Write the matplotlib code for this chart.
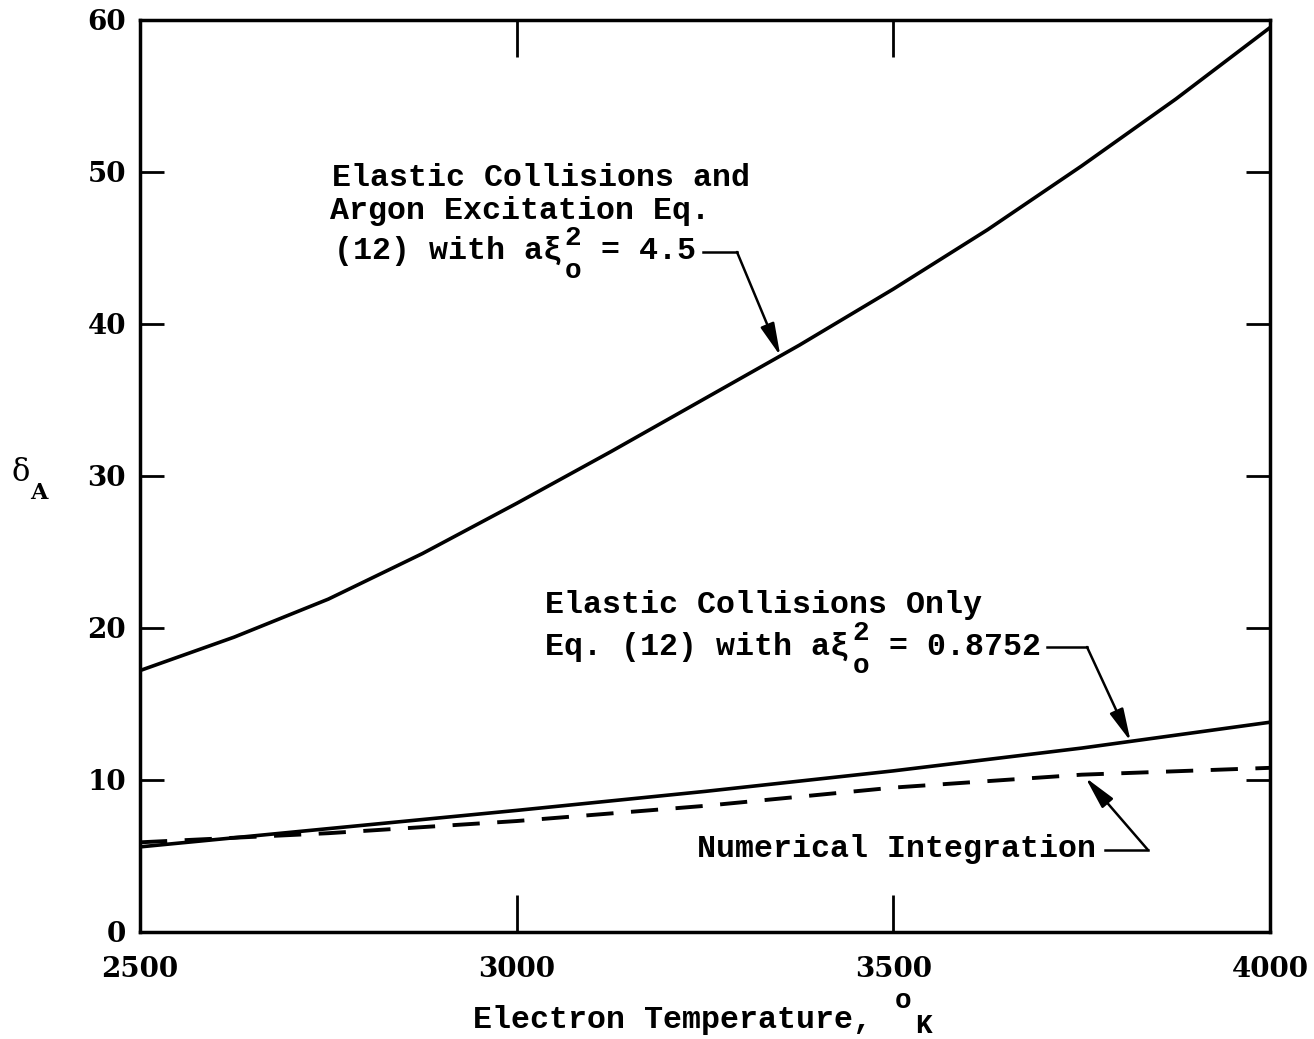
import numpy as np
import matplotlib
matplotlib.use("Agg")
import matplotlib.pyplot as plt
from matplotlib.lines import Line2D

# Electron temperature (K) and energy-loss factor delta_A
temp_upper = [2500, 2625, 2750, 2875, 3000, 3125, 3250, 3375, 3500, 3625, 3750, 3875, 4000]
delta_excitation = [17.2, 19.4, 21.9, 24.9, 28.2, 31.6, 35.1, 38.6, 42.3, 46.2, 50.4, 54.8, 59.5]

temp_lower = [2500, 2750, 3000, 3250, 3500, 3750, 4000]
delta_elastic = [5.6, 6.8, 8.0, 9.25, 10.6, 12.1, 13.8]
delta_numerical = [5.9, 6.5, 7.3, 8.3, 9.5, 10.35, 10.8]

x_ticks = [2500, 3000, 3500, 4000]
y_ticks = [0, 10, 20, 30, 40, 50, 60]

W, H = 1314, 1039
fig = plt.figure(figsize=(W / 100, H / 100), dpi=100)
ax = fig.add_axes([140 / W, 1 - 932 / H, 1130 / W, 912 / H])


def fp(x, y):
    """Pixel position -> figure fraction."""
    return (x / W, 1 - y / H)


MONO = dict(family=['Liberation Mono', 'DejaVu Sans Mono'], weight='bold',
            size=22.8, color='black')
SMALL = dict(MONO, size=20)
TICKFONT = dict(family=['DejaVu Serif'], weight='bold', size=20)

ax.plot(temp_upper, delta_excitation, color='black', lw=2.6)
ax.plot(temp_lower, delta_elastic, color='black', lw=2.6)
ax.plot(temp_lower, delta_numerical, color='black', lw=2.8, dashes=(7.0, 4.5))

ax.set_xlim(2500, 4000)
ax.set_ylim(0, 60)
ax.set_xticks(x_ticks)
ax.set_yticks(y_ticks)
ax.set_xticklabels([str(v) for v in x_ticks], fontdict=TICKFONT)
ax.set_yticklabels([str(v) for v in y_ticks], fontdict=TICKFONT)
ax.tick_params(axis='x', direction='in', length=26.5, width=2, top=True,
               labeltop=False, pad=17)
ax.tick_params(axis='y', direction='in', length=17, width=2, right=True,
               labelright=False, pad=10)
for s in ax.spines.values():
    s.set_linewidth(2.5)

# Axis titles
fig.text(*fp(473, 1028), 'Electron Temperature,', **MONO)
fig.text(*fp(903, 1008), 'o', ha='center', **SMALL)
fig.text(*fp(923, 1033), 'K', ha='center', **SMALL)
fig.text(*fp(21, 481), 'δ', ha='center', family=['DejaVu Serif'], size=22)
fig.text(*fp(39, 499), 'A', ha='center', family=['DejaVu Serif'], weight='bold', size=16)

# Curve labels
fig.text(*fp(332, 186), 'Elastic Collisions and', **MONO)
fig.text(*fp(330, 219), 'Argon Excitation Eq.', **MONO)
fig.text(*fp(334, 259), '(12) with aξ', **MONO)
fig.text(*fp(601, 259), '= 4.5', **MONO)
fig.text(*fp(573, 245), '2', ha='center', **SMALL)
fig.text(*fp(573, 278), 'o', ha='center', **SMALL)

fig.text(*fp(545, 613), 'Elastic Collisions Only', **MONO)
fig.text(*fp(545, 655), 'Eq. (12) with aξ', **MONO)
fig.text(*fp(889, 655), '= 0.8752', **MONO)
fig.text(*fp(861, 640), '2', ha='center', **SMALL)
fig.text(*fp(861, 673), 'o', ha='center', **SMALL)

fig.text(*fp(697, 857), 'Numerical Integration', **MONO)

ARROW = dict(arrowstyle='-|>,head_length=0.9,head_width=0.2', color='black',
             lw=1.8, shrinkA=0, shrinkB=0, mutation_scale=22)


def leader(x_text, x_corner, y_px, tip_x, tip_y):
    fig.add_artist(Line2D([x_text / W, x_corner / W], [1 - y_px / H, 1 - y_px / H],
                          transform=fig.transFigure, color='black', lw=1.8))
    ax.annotate('', xy=(tip_x, tip_y), xycoords='data',
                xytext=fp(x_corner, y_px), textcoords='figure fraction',
                arrowprops=ARROW, annotation_clip=False)


t1 = 3350
leader(703, 737, 252, t1, np.interp(t1, temp_upper, delta_excitation))
t2 = 3815
leader(1047, 1087, 647, t2, np.interp(t2, temp_lower, delta_elastic))
t3 = 3755
leader(1105, 1148, 850, t3, np.interp(t3, temp_lower, delta_numerical) - 0.2)

fig.savefig('out.png', dpi=100)
